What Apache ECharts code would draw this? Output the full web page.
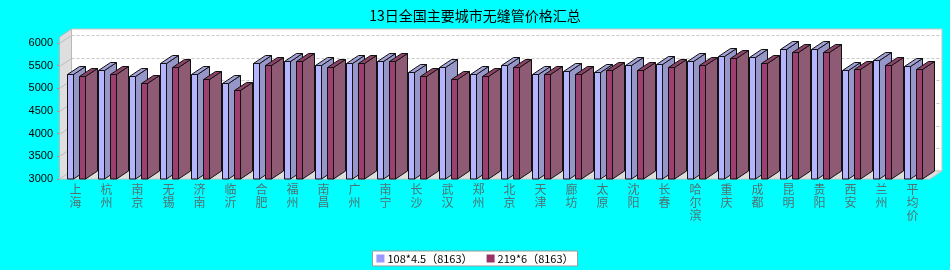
<!DOCTYPE html>
<html>
<head>
<meta charset="utf-8">
<script src="https://cdn.jsdelivr.net/npm/echarts@6/dist/echarts.min.js"></script>
<style>
  html, body { margin: 0; padding: 0; background: #00ffff; }
  #chart { width: 950px; height: 270px; }
</style>
</head>
<body>
<div id="chart"></div>
<script>
// 城市
var cities = ['上海', '杭州', '南京', '无锡', '济南', '临沂', '合肥', '福州', '南昌', '广州', '南宁', '长沙', '武汉', '郑州',
  '北京', '天津', '廊坊', '太原', '沈阳', '长春', '哈尔滨', '重庆', '成都', '昆明', '贵阳', '西安', '兰州', '平均价']
// 108*4.5 价格
var pipe108 = [5310, 5400, 5270, 5550, 5310, 5110, 5550, 5600, 5510, 5550, 5600, 5350, 5460, 5310,
  5510, 5310, 5380, 5350, 5510, 5530, 5600, 5710, 5700, 5870, 5870, 5400, 5620, 5490]
// 219*6 价格
var pipe219 = [5270, 5310, 5110, 5460, 5210, 4960, 5510, 5600, 5460, 5550, 5600, 5270, 5210, 5270,
  5460, 5310, 5310, 5400, 5400, 5460, 5510, 5660, 5550, 5800, 5800, 5420, 5510, 5420]
var seriesNames = ['108*4.5（8163）', '219*6（8163）']
var yTicks = [3000, 3500, 4000, 4500, 5000, 5500, 6000]

var DX = 12 // 3D 深度
var DY = 8

var chart = echarts.init(document.getElementById('chart'))

/**
 * 3D 柱子
 * offset 相对类目中心的位置（按类目宽度）
 */
function bar3d (offset, colors) {
  return function (params, api) {
    var top = api.coord([api.value(0), api.value(1)])
    var base = api.coord([api.value(0), yTicks[0]])
    var band = api.size([1, 0])[0]
    var w = band * 0.194
    var x = Math.round(top[0] + band * offset) + 0.5
    var y = Math.round(top[1]) + 0.5
    var b = base[1]
    var line = { stroke: '#111', lineWidth: 1 }
    return {
      type: 'group',
      children: [
        {
          type: 'polygon',
          shape: { points: [[x + w, y], [x + w + DX, y - DY], [x + w + DX, b - DY], [x + w, b]] },
          style: Object.assign({ fill: colors.side }, line)
        },
        {
          type: 'polygon',
          shape: { points: [[x, y], [x + DX, y - DY], [x + w + DX, y - DY], [x + w, y]] },
          style: Object.assign({ fill: colors.top }, line)
        },
        {
          type: 'rect',
          shape: { x: x, y: y, width: w, height: b - y },
          style: Object.assign({ fill: colors.front }, line)
        }
      ]
    }
  }
}

// 墙面、地面和网格线
function frame (params, api) {
  var cs = params.coordSys
  var x0 = cs.x - 0.5
  var x1 = cs.x + cs.width + 2
  var yTop = cs.y - 6
  var yBot = cs.y + cs.height
  var children = [
    {
      type: 'rect',
      shape: { x: x0 + DX, y: yTop - DY, width: x1 - x0, height: yBot - yTop },
      style: { fill: '#ffffff', stroke: '#c4c4c4', lineWidth: 1 }
    },
    {
      type: 'polygon',
      shape: { points: [[x0, yBot], [x0, yTop], [x0 + DX, yTop - DY], [x0 + DX, yBot - DY]] },
      style: { fill: '#dedede', stroke: '#b8b8b8', lineWidth: 1 }
    },
    {
      type: 'polygon',
      shape: { points: [[x0, yBot], [x0 + DX, yBot - DY], [x1 + DX, yBot - DY], [x1, yBot]] },
      style: { fill: '#dedede', stroke: '#c4c4c4', lineWidth: 1 }
    }
  ]
  yTicks.forEach(function (v) {
    if (v === yTicks[0]) return
    var y = Math.round(api.coord([0, v])[1]) + 0.5
    children.push({
      type: 'line',
      shape: { x1: x0 + DX, y1: y - DY, x2: x1 + DX, y2: y - DY },
      style: { stroke: '#c8c8c8', lineWidth: 1, lineDash: [3, 2] }
    })
    children.push({
      type: 'line',
      shape: { x1: x0, y1: y, x2: x0 + DX, y2: y - DY },
      style: { stroke: '#bcbcbc', lineWidth: 1 }
    })
  })
  return { type: 'group', children: children }
}

var option = {
  backgroundColor: '#00ffff',
  animation: false,
  title: {
    text: '13日全国主要城市无缝管价格汇总',
    left: 'center',
    top: 4,
    textStyle: {
      color: '#000',
      fontSize: 14,
      fontWeight: 'normal',
      fontFamily: 'Noto Sans CJK SC'
    }
  },
  legend: {
    data: seriesNames,
    left: 'center',
    top: 251,
    icon: 'rect',
    itemWidth: 8,
    itemHeight: 8,
    itemGap: 14,
    padding: [2, 4],
    backgroundColor: '#fff',
    borderColor: '#999',
    borderWidth: 1,
    borderRadius: 0,
    textStyle: {
      color: '#000',
      fontSize: 11,
      fontFamily: 'Noto Sans CJK SC',
      padding: [0, 0, 0, -2]
    }
  },
  grid: {
    left: 60,
    right: 22,
    top: 43,
    bottom: 91
  },
  xAxis: {
    type: 'category',
    data: cities,
    axisLine: { show: false },
    axisTick: { show: false },
    axisLabel: {
      interval: 0,
      margin: 4,
      color: '#4f7272',
      fontSize: 12,
      lineHeight: 13,
      fontFamily: 'Noto Sans CJK SC',
      formatter: function (v) {
        return v.split('').join('\n')
      }
    }
  },
  yAxis: {
    type: 'value',
    min: 3000,
    max: 6000,
    interval: 500,
    axisLine: { show: false },
    axisTick: {
      show: true,
      length: 3,
      lineStyle: { color: '#d08080' }
    },
    axisLabel: {
      margin: 7,
      color: '#000',
      fontSize: 11,
      fontFamily: 'Liberation Sans',
      formatter: function (v) {
        return String(v)
      }
    },
    splitLine: { show: false }
  },
  series: [
    {
      type: 'custom',
      silent: true,
      clip: false,
      z: 1,
      renderItem: frame,
      data: [[0, yTicks[0]]]
    },
    {
      name: seriesNames[0],
      type: 'custom',
      clip: false,
      z: 2,
      itemStyle: { color: '#9999ff' },
      renderItem: bar3d(-0.28, { front: '#b4b4ff', top: '#a2a2d8', side: '#9696c8' }),
      data: pipe108.map(function (v, i) { return [i, v] })
    },
    {
      name: seriesNames[1],
      type: 'custom',
      clip: false,
      z: 3,
      itemStyle: { color: '#993366' },
      renderItem: bar3d(0.106, { front: '#9c4070', top: '#8e4268', side: '#8e5a74' }),
      data: pipe219.map(function (v, i) { return [i, v] })
    }
  ]
}

chart.setOption(option)
</script>
</body>
</html>
